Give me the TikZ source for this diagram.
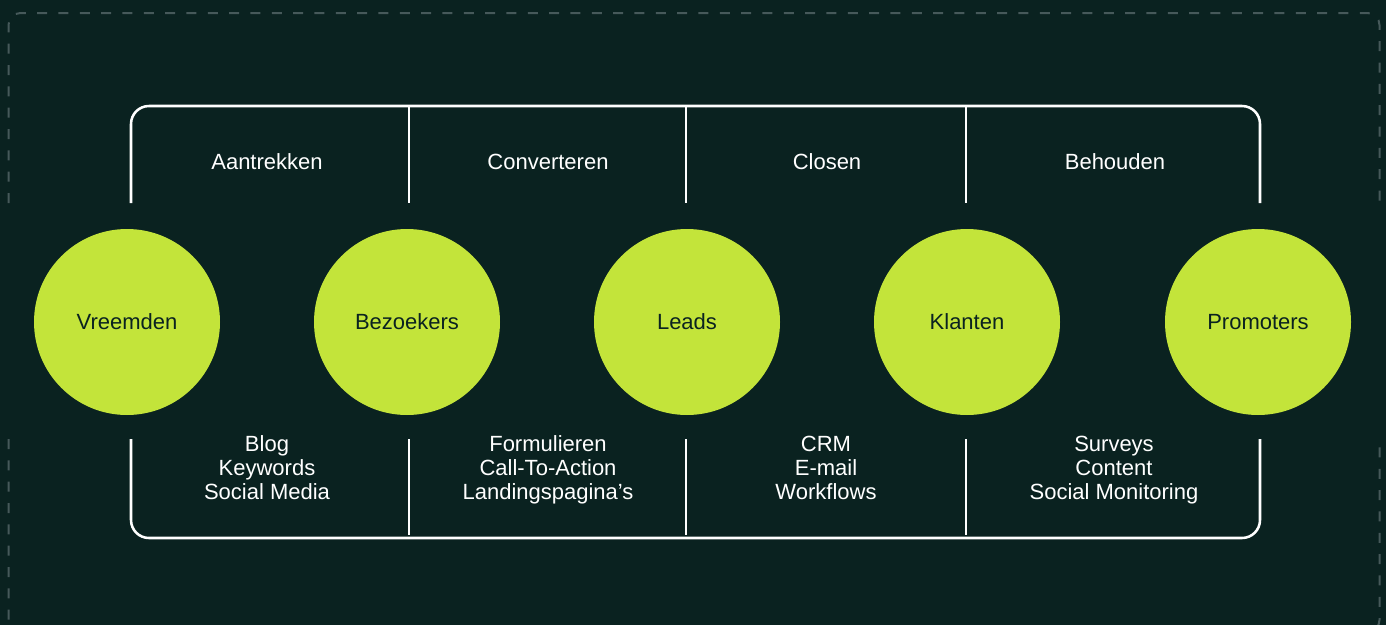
\documentclass[tikz,border=0pt]{standalone}
\usepackage{fontspec}
\setmainfont{Liberation Sans}
\definecolor{bgdark}{HTML}{0A2220}
\definecolor{limegreen}{HTML}{C3E43A}
\definecolor{dashgrey}{HTML}{46595A}
\begin{document}
\begin{tikzpicture}[x=0.75pt,y=-0.75pt,
  stagecircle/.style={circle, fill=limegreen, minimum size=139.5pt, inner sep=0pt,
    text=bgdark, font=\fontsize{16.5}{18}\selectfont},
  phaselabel/.style={text=white, font=\fontsize{16.5}{18}\selectfont},
  toollist/.style={text=white, align=center, font=\fontsize{16.5}{18}\selectfont},
  frameline/.style={draw=white, line width=1.9pt},
  outerdash/.style={draw=dashgrey, line width=1.5pt, dash pattern=on 7.5pt off 8.5pt, rounded corners=9pt}]
\useasboundingbox (0,0) rectangle (1386,625);
\fill[bgdark] (0,0) rectangle (1386,625);

% dashed outer frame, open at the height of the circles
\draw[outerdash] (8.5,203) -- (8.5,13) -- (1379.5,13) -- (1379.5,203);
\draw[outerdash] (8.5,439) -- (8.5,632) -- (1379.5,632) -- (1379.5,439);

% upper bracket with phase dividers
\coordinate (tl) at (131,203);
\coordinate (tr) at (1260,203);
\draw[frameline, rounded corners=13.5pt] (tl) -- (131,106) -- (1260,106) -- (tr);
\foreach \x in {409,686,966} \draw[frameline] (\x,106) -- (\x,203);

% lower bracket with dividers
\coordinate (bl) at (131,439);
\coordinate (br) at (1260,439);
\draw[frameline, rounded corners=13.5pt] (bl) -- (131,538) -- (1260,538) -- (br);
\foreach \x in {409,686,966} \draw[frameline] (\x,439) -- (\x,535);

% funnel stages
\node[stagecircle] (vreemden) at (127,322) {Vreemden};
\node[stagecircle] (bezoekers) at (407,322) {Bezoekers};
\node[stagecircle] (leads) at (687,322) {Leads};
\node[stagecircle] (klanten) at (967,322) {Klanten};
\node[stagecircle] (promoters) at (1258,322) {Promoters};

% phase names
\node[phaselabel] (aantrekken) at (267,162) {Aantrekken};
\node[phaselabel] (converteren) at (548,162) {Converteren};
\node[phaselabel] (closen) at (827,162) {Closen};
\node[phaselabel] (behouden) at (1115,162) {Behouden};

% tools per phase
\node[toollist] (tools1) at (267,471) {\strut Blog\\\strut Keywords\\\strut Social Media};
\node[toollist] (tools2) at (548,471) {\strut Formulieren\\\strut Call-To-Action\\\strut Landingspagina’s};
\node[toollist] (tools3) at (826,471) {\strut CRM\\\strut E-mail\\\strut Workflows};
\node[toollist] (tools4) at (1114,471) {\strut Surveys\\\strut Content\\\strut Social Monitoring};
\end{tikzpicture}
\end{document}
